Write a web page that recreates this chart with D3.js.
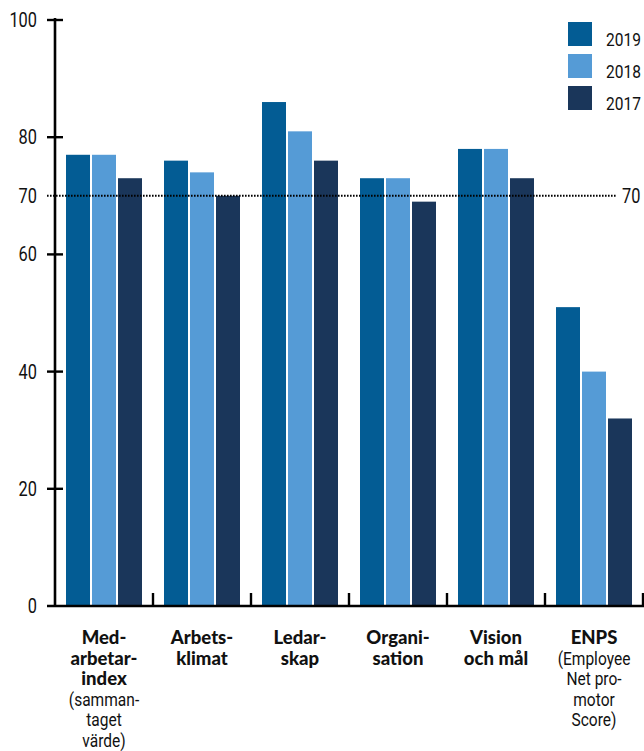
<!DOCTYPE html>
<html>
<head>
<meta charset="utf-8">
<script src="https://cdn.jsdelivr.net/npm/d3@7"></script>
<style>
  html, body { margin: 0; padding: 0; background: #fff; }
  svg { display: block; }
  text { font-family: Roboto, "Noto Sans", sans-serif; fill: #111; }
  text.heavy { font-family: Lato, Roboto, sans-serif; font-weight: 900; }
</style>
</head>
<body>
<script>
// Survey results per area, three years
const categories = ["Medarbetarindex", "Arbetsklimat", "Ledarskap", "Organisation", "Vision och mål", "ENPS"];
const years = ["2019", "2018", "2017"];
const values2019 = [77, 76, 86, 73, 78, 51];
const values2018 = [77, 74, 81, 73, 78, 40];
const values2017 = [73, 70, 76, 69, 73, 32];
const yTicks = [0, 20, 40, 60, 70, 80, 100];
const referenceValue = 70;

// Category labels: bold heading lines, then regular explanation lines
const labelBold = [
  ["Med-", "arbetar-", "index"],
  ["Arbets-", "klimat"],
  ["Ledar-", "skap"],
  ["Organi-", "sation"],
  ["Vision", "och mål"],
  ["ENPS"]
];
const labelNote = [
  ["(samman-", "taget", "värde)"],
  [], [], [], [],
  ["(Employee", "Net pro-", "motor", "Score)"]
];

const colors = { "2019": "#035c94", "2018": "#559bd6", "2017": "#1a365a" };

// narrow letterforms: squeeze text horizontally around its anchor point
const SX_REG = 0.84, SX_BOLD = 1;
function placeText(sel, fx, fy, sx) {
  sel.attr("transform", (d, i) => `translate(${fx(d, i)},${fy(d, i)}) scale(${typeof sx === "function" ? sx(d, i) : sx},1)`);
}

const W = 644, H = 751;
const svg = d3.select("body").append("svg").attr("width", W).attr("height", H);

const x = d3.scaleBand().domain(categories).range([55, 643]).paddingInner(0).paddingOuter(0);
const xi = d3.scaleBand().domain(years).range([11, 87]).paddingInner(2 / 26);
const y = d3.scaleLinear().domain([0, 100]).range([606, 20]);

const seriesByYear = { "2019": values2019, "2018": values2018, "2017": values2017 };
const rows = categories.map((c, i) => ({ cat: c, vals: years.map(yr => ({ year: yr, v: seriesByYear[yr][i] })) }));

// Bars
const groups = svg.append("g").selectAll("g").data(rows).join("g")
  .attr("transform", d => `translate(${x(d.cat)},0)`);
groups.selectAll("rect").data(d => d.vals).join("rect")
  .attr("x", d => xi(d.year))
  .attr("width", xi.bandwidth())
  .attr("y", d => y(d.v))
  .attr("height", d => y(0) - y(d.v))
  .attr("fill", d => colors[d.year]);

// Y axis line and ticks
const yAxis = svg.append("g");
yAxis.append("line")
  .attr("x1", 55).attr("x2", 55).attr("y1", y(100) - 2).attr("y2", y(0) + 1)
  .attr("stroke", "#000").attr("stroke-width", 2.6);
yAxis.selectAll("line.tick").data(yTicks.filter(t => t !== referenceValue && t !== 0)).join("line")
  .attr("class", "tick")
  .attr("x1", 47).attr("x2", 63)
  .attr("y1", d => y(d)).attr("y2", d => y(d))
  .attr("stroke", "#000").attr("stroke-width", 2.4);
yAxis.selectAll("text").data(yTicks).join("text")
  .attr("dy", "0.36em")
  .attr("text-anchor", "end")
  .attr("font-size", 19.5)
  .text(d => d)
  .call(placeText, () => 37, d => y(d), SX_REG);

// Baseline with category separators
const xAxis = svg.append("g");
xAxis.append("line")
  .attr("x1", 47).attr("x2", 644).attr("y1", y(0)).attr("y2", y(0))
  .attr("stroke", "#000").attr("stroke-width", 2.6);
xAxis.selectAll("line.sep").data(categories).join("line")
  .attr("class", "sep")
  .attr("x1", d => x(d) + x.bandwidth()).attr("x2", d => x(d) + x.bandwidth())
  .attr("y1", y(0) - 13).attr("y2", y(0))
  .attr("stroke", "#000").attr("stroke-width", 2.4);

// Category labels
const lab = svg.append("g").selectAll("g").data(categories).join("g");
lab.each(function (c, i) {
  const g = d3.select(this);
  const cx = x(c) + x.bandwidth() / 2;
  const lines = labelBold[i].map(t => ({ t, bold: true })).concat(labelNote[i].map(t => ({ t, bold: false })));
  g.selectAll("text").data(lines).join("text")
    .attr("class", d => d.bold ? "heavy" : null)
    .attr("text-anchor", "middle")
    .attr("font-size", d => d.bold ? 18.5 : 18.5)
    .text(d => d.t)
    .call(placeText, () => cx, (d, k) => 644 + k * 20.6, d => d.bold ? SX_BOLD : SX_REG);
});

// Reference line at 70
svg.append("line")
  .attr("x1", 47).attr("x2", 617).attr("y1", y(referenceValue)).attr("y2", y(referenceValue))
  .attr("stroke", "#000").attr("stroke-width", 2).attr("stroke-dasharray", "1.6,1.4");
svg.append("text")
  .datum(referenceValue)
  .attr("dy", "0.36em")
  .attr("font-size", 19.5)
  .text(d => d)
  .call(placeText, () => 622, d => y(d), SX_REG);

// Legend
const leg = svg.append("g").selectAll("g").data(years).join("g")
  .attr("transform", (d, i) => `translate(568,${22 + i * 32})`);
leg.append("rect").attr("width", 24).attr("height", 24).attr("fill", d => colors[d]);
leg.append("text").attr("font-size", 18.5).text(d => d)
  .call(placeText, () => 38, () => 24, SX_REG);
</script>
</body>
</html>
